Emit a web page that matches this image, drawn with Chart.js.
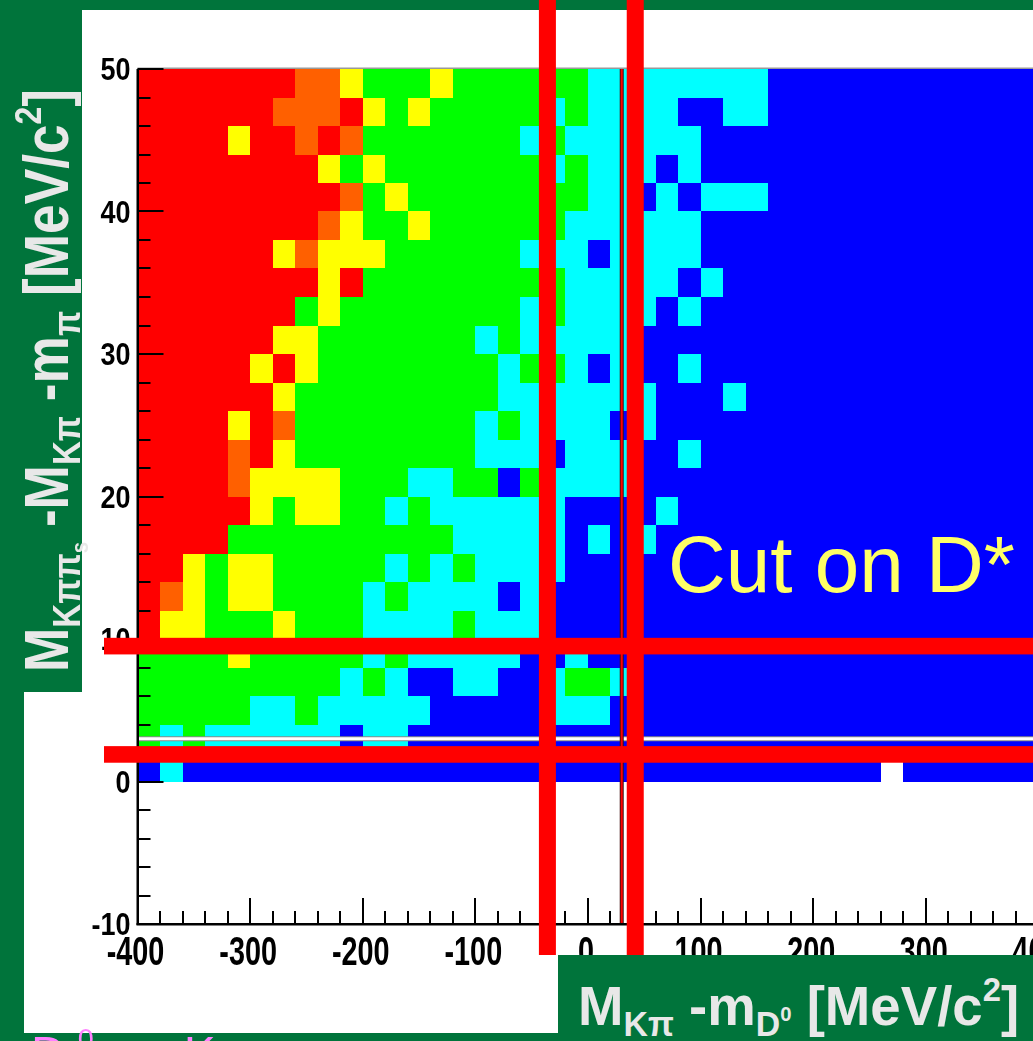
<!DOCTYPE html>
<html>
<head>
<meta charset="utf-8">
<script src="https://cdn.jsdelivr.net/npm/chart.js@4.4.1/dist/chart.umd.min.js"></script>
<style>
  html, body { margin: 0; padding: 0; width: 1033px; height: 1041px; overflow: hidden; }
  body { position: relative; background: #00743b; font-family: 'Liberation Sans', Arial, sans-serif; }
  #panel { position: absolute; left: 24px; top: 10px; width: 1100px; height: 1023px; background: #fff; }
  #wrap { position: absolute; left: 0; top: 0; width: 1200px; height: 1041px; z-index: 1; }
  .box { position: absolute; background: #00743b; z-index: 2; overflow: visible; }
  #ybox { left: 0; top: 0; width: 82px; height: 692px; }
  #xbox { left: 558px; top: 955px; width: 500px; height: 90px; }
  .title { position: absolute; white-space: nowrap; color: #e8e8e8; font-weight: bold; }
  #ytitle { left: 0; top: 0; font-size: 63px; line-height: 63px; transform-origin: 0 0;
            transform: translate(15px, 672px) rotate(-90deg) scaleX(0.845); }
  #xtitle { left: 20px; top: 23px; font-size: 56px; line-height: 56px; transform-origin: 0 0; transform: scaleX(0.975); }
  .sb { font-size: 0.62em; position: relative; top: 0.32em; }
  .sp { font-size: 0.6em; position: relative; top: -0.72em; }
  #cut { position: absolute; left: 668px; top: 525px; font-size: 80px; line-height: 80px; color: #ffff66; z-index: 2; white-space: nowrap; }
  #decay { position: absolute; left: 31px; top: 1030px; font-size: 48px; line-height: 48px; color: #ff80ff; z-index: 3; white-space: nowrap; }
</style>
</head>
<body>
<div id="panel"></div>
<div id="wrap"><canvas id="colz" width="1200" height="1041"></canvas></div>
<div class="box" id="ybox">
  <div class="title" id="ytitle">M<span class="sb">Kππ<span class="sb">s</span></span> -M<span class="sb">Kπ</span> -m<span class="sb">π</span> [MeV/c<span class="sp">2</span>]</div>
</div>
<div class="box" id="xbox">
  <div class="title" id="xtitle">M<span class="sb">Kπ</span> -m<span class="sb">D<span class="sp">0</span></span> [MeV/c<span class="sp">2</span>]</div>
</div>
<div id="cut">Cut on D*</div>
<div id="decay">D<span class="sp" style="margin-left:12px">0</span><span style="margin-left:28px">→</span><span style="margin-left:14px">Kπ</span></div>

<script>
// binning of the 2D histogram (MeV/c2)
const xBinWidth = 20;
const yBinWidth = 2;
const xFirstEdge = -400;
const yFirstEdge = 0;

// colour level per bin, 0 = empty, 1 blue .. 6 red
// one string per row, top row (48-50) first, groups of 5 bins = 100 MeV
const zRows = [
  '66666 66554 33343 33333 22222 22211 11111 11111', // 48-50
  '66666 65556 43433 33323 22221 12211 11111 11111', // 46-48
  '66664 66565 33333 33232 22222 11111 11111 11111', // 44-46
  '66666 66643 43333 33323 22212 11111 11111 11111', // 42-44
  '66666 66665 34333 33333 22121 22211 11111 11111', // 40-42
  '66666 66654 33433 33332 22222 11111 11111 11111', // 38-40
  '66666 64544 43333 33222 12222 11111 11111 11111', // 36-38
  '66666 66646 33333 33332 22221 21111 11111 11111', // 34-36
  '66666 66343 33333 33232 22212 11111 11111 11111', // 32-34
  '66666 64433 33333 23222 22111 11111 11111 11111', // 30-32
  '66666 46433 33333 32332 12112 11111 11111 11111', // 28-30
  '66666 64333 33333 32222 22211 12111 11111 11111', // 26-28
  '66664 65333 33333 23222 21211 11111 11111 11111', // 24-26
  '66665 64333 33333 22212 22112 11111 11111 11111', // 22-24
  '66665 44443 33223 31322 22111 11111 11111 11111', // 20-22
  '66666 43443 32322 22221 11121 11111 11111 11111', // 18-20
  '66663 33333 33332 22221 21211 11111 11111 11111', // 16-18
  '66434 43333 32323 22221 11111 11111 11111 11111', // 14-16
  '65434 43333 23222 21211 11111 11111 11111 11111', // 12-14
  '64433 34333 22223 22211 11111 11111 11111 11111', // 10-12
  '33334 33333 23222 22112 11111 11111 11111 11111', // 8-10
  '33333 33332 32112 21123 32111 11111 11111 11111', // 6-8
  '33333 22322 22211 11122 21111 11111 11111 11111', // 4-6
  '32322 22221 22111 11111 11111 11111 11111 11111', // 2-4
  '12111 11111 11111 11111 11111 11111 11101 11111'  // 0-2
];
const palette = ['', '#0000ff', '#00ffff', '#00ff00', '#ffff00', '#ff6000', '#ff0000'];

const xTicks = [-400, -300, -200, -100, 0, 100, 200, 300, 400, 500];
const yTicks = [-10, 0, 10, 20, 30, 40, 50];

// cut lines drawn on top
const cutDm = [-36, 42];   // thick vertical
const cutDs = [1.9, 9.5];  // thick horizontal
const refDm = 30;          // thin red vertical
const refDs = 3;           // thin white horizontal

const cells = [];
zRows.forEach((row, r) => {
  const bins = row.replace(/\s/g, '');
  const yc = yFirstEdge + (zRows.length - 1 - r) * yBinWidth + yBinWidth / 2;
  [...bins].forEach((d, c) => {
    const z = Number(d);
    if (z) cells.push({ x: xFirstEdge + c * xBinWidth + xBinWidth / 2, y: yc, z });
  });
});

// ROOT style labels are narrower than Liberation Sans, squeeze them a bit
function tickText(ctx, text, px, py, size, sx, align) {
  ctx.save();
  ctx.translate(px, py);
  ctx.scale(sx, 1);
  ctx.font = "bold " + size + "px 'Liberation Sans', Arial, sans-serif";
  ctx.textAlign = align;
  ctx.textBaseline = 'alphabetic';
  ctx.fillStyle = '#000';
  ctx.fillText(text, 0, 0);
  ctx.restore();
}

const colzPlugin = {
  id: 'colz',
  beforeDatasetsDraw(chart) {
    const { ctx, chartArea: a, scales: { x, y } } = chart;
    ctx.save();
    ctx.beginPath();
    ctx.rect(a.left, a.top, a.right - a.left, a.bottom - a.top);
    ctx.clip();
    chart.data.datasets[0].data.forEach(p => {
      const x0 = Math.round(x.getPixelForValue(p.x - xBinWidth / 2));
      const x1 = Math.round(x.getPixelForValue(p.x + xBinWidth / 2));
      const y0 = Math.round(y.getPixelForValue(p.y + yBinWidth / 2));
      const y1 = Math.round(y.getPixelForValue(p.y - yBinWidth / 2));
      ctx.fillStyle = palette[p.z];
      ctx.fillRect(x0, y0, x1 - x0, y1 - y0);
    });
    ctx.restore();
  },
  afterDraw(chart) {
    const { ctx, chartArea: a, scales: { x, y } } = chart;
    const W = chart.width;
    ctx.save();

    // thin white line
    const yw = y.getPixelForValue(refDs);
    ctx.fillStyle = '#8a8a8a';
    ctx.fillRect(a.left, yw - 2.5, W - a.left, 5);
    ctx.fillStyle = '#ffffff';
    ctx.fillRect(a.left, yw - 1.5, W - a.left, 3);

    // thin red line
    const xr = x.getPixelForValue(refDm);
    ctx.fillStyle = '#401010';
    ctx.fillRect(xr - 2, a.top, 4, a.bottom - a.top);
    ctx.fillStyle = '#ff0000';
    ctx.fillRect(xr - 1, a.top, 2, a.bottom - a.top);

    // frame + axes
    ctx.fillStyle = '#999999';
    ctx.fillRect(a.left, a.top - 1.5, a.right - a.left, 1.5);
    ctx.fillStyle = '#000000';
    ctx.fillRect(a.left - 1, a.top, 2.5, a.bottom - a.top + 1);
    ctx.fillRect(a.left - 1, a.bottom - 1, a.right - a.left, 2.5);

    // ticks, inside the frame
    for (let v = -10; v <= 50; v += 2) {
      const py = Math.round(y.getPixelForValue(v));
      ctx.fillRect(a.left, py - 1, v % 10 === 0 ? 26 : 13, 2);
    }
    for (let v = -400; v <= 500; v += 20) {
      const px = Math.round(x.getPixelForValue(v));
      const len = v % 100 === 0 ? 26 : 13;
      ctx.fillRect(px - 1, a.bottom - len, 2, len);
    }

    // tick labels
    yTicks.forEach(v => tickText(ctx, String(v), a.left - 7, y.getPixelForValue(v) + 11, 31, 0.87, 'right'));
    xTicks.forEach(v => tickText(ctx, String(v), x.getPixelForValue(v) - 2, a.bottom + 41, 40, 0.72, 'center'));

    // thick cut lines
    ctx.fillStyle = '#ff0000';
    cutDm.forEach(v => {
      const px = x.getPixelForValue(v);
      ctx.fillRect(px - 8.5, 0, 17, 955);
    });
    cutDs.forEach(v => {
      const py = y.getPixelForValue(v);
      ctx.fillRect(104, py - 8.3, W - 104, 16.6);
    });
    ctx.restore();
  }
};

new Chart(document.getElementById('colz').getContext('2d'), {
  type: 'scatter',
  data: { datasets: [{ data: cells, pointRadius: 0 }] },
  options: {
    responsive: false,
    animation: false,
    events: [],
    layout: { padding: { left: 0, top: 69, right: 49, bottom: 0 } },
    plugins: { legend: { display: false }, tooltip: { enabled: false } },
    scales: {
      x: {
        type: 'linear', min: -400, max: 500,
        afterBuildTicks: s => { s.ticks = xTicks.map(v => ({ value: v })); },
        afterFit: s => { s.height = 117; },
        grid: { display: false, drawTicks: false },
        border: { display: false },
        ticks: { display: false }
      },
      y: {
        type: 'linear', min: -10, max: 50,
        afterBuildTicks: s => { s.ticks = yTicks.map(v => ({ value: v })); },
        afterFit: s => { s.width = 137.5; },
        grid: { display: false, drawTicks: false },
        border: { display: false },
        ticks: { display: false }
      }
    }
  },
  plugins: [colzPlugin]
});
</script>
</body>
</html>
